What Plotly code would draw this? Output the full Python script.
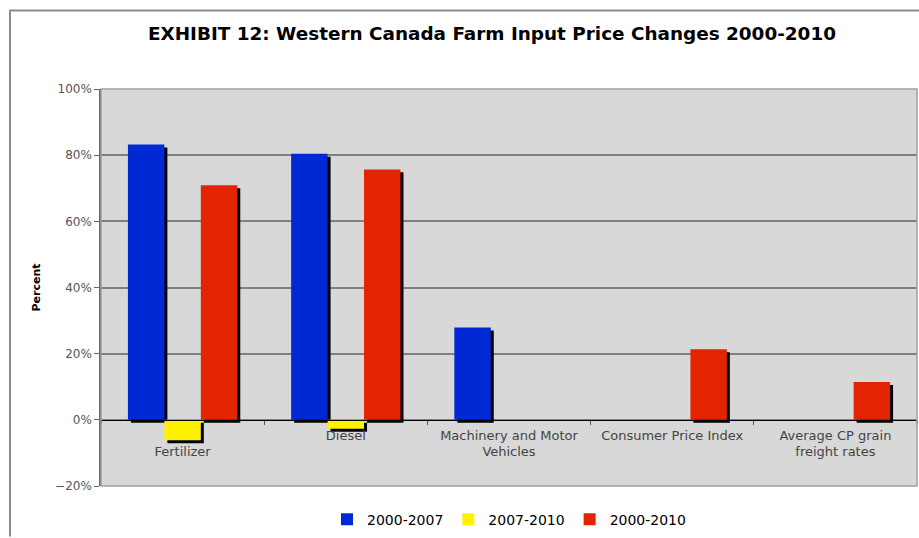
import plotly.graph_objects as go

categories = ["Fertilizer", "Diesel", "Machinery and Motor Vehicles",
              "Consumer Price Index", "Average CP grain freight rates"]
tick_labels = ["<br>Fertilizer", "Diesel", "Machinery and Motor<br>Vehicles",
               "Consumer Price Index", "Average CP grain<br>freight rates"]
series_names = ["2000-2007", "2007-2010", "2000-2010"]
v_2000_2007 = [83.2, 80.4, 27.9, None, None]
v_2007_2010 = [-6.2, -2.7, None, None, None]
v_2000_2010 = [70.9, 75.7, None, 21.3, 11.4]
colors = ["#0029D6", "#FFF200", "#E32400"]

W, H = 919, 538
ML, MR, MT, MB = 101, 2, 89, 49
PW, PH = W - ML - MR, H - MT - MB
YMIN, YMAX = -20, 100

bargap = 0.33
bw = (1 - bargap) / 3
offsets = [-1.5 * bw + i * bw for i in range(3)]
dx = 3 / (PW / len(categories))
dy = 3 * (YMAX - YMIN) / PH

fig = go.Figure()
series = [v_2000_2007, v_2007_2010, v_2000_2010]
# shadows
for vals, off in zip(series, offsets):
    fig.add_trace(go.Bar(x=categories, y=vals, base=-dy, width=bw, offset=off + dx,
                         marker=dict(color="black", line=dict(width=0)),
                         showlegend=False, hoverinfo="skip"))
for name, vals, off, c in zip(series_names, series, offsets, colors):
    fig.add_trace(go.Bar(x=categories, y=vals, name=name, width=bw, offset=off,
                         marker=dict(color=c, line=dict(width=0))))

def px_x(p):
    return (p - ML) / PW

def px_y(p):
    return (H - MB - p) / PH

shapes = [
    dict(type="rect", xref="paper", yref="paper", x0=0, x1=1, y0=0, y1=1,
         line=dict(color="#a0a0a0", width=1.5), layer="above"),
    dict(type="line", xref="paper", yref="paper", x0=px_x(10), x1=px_x(10),
         y0=px_y(10), y1=px_y(540), line=dict(color="#8c8c8c", width=2)),
    dict(type="line", xref="paper", yref="paper", x0=px_x(9), x1=px_x(921),
         y0=px_y(10), y1=px_y(10), line=dict(color="#8c8c8c", width=2)),
]

fig.update_layout(
    width=W, height=H,
    margin=dict(l=ML, r=MR, t=MT, b=MB),
    paper_bgcolor="white", plot_bgcolor="#D8D8D8",
    barmode="overlay",
    font=dict(family="DejaVu Sans", size=12, color="#444"),
    title=dict(text="<b>EXHIBIT 12: Western Canada Farm Input Price Changes 2000-2010</b>",
               x=492 / W, xanchor="center", y=1 - 34 / H, yanchor="middle",
               font=dict(family="DejaVu Sans", size=18.4, color="black")),
    xaxis=dict(type="category", categoryorder="array", categoryarray=categories,
               tickmode="array", tickvals=categories, ticktext=tick_labels,
               range=[-0.5, len(categories) - 0.5],
               anchor="free", position=(0 - YMIN) / (YMAX - YMIN),
               showline=True, linecolor="black", linewidth=1.2,
               ticks="outside", tickson="boundaries", ticklen=4, tickcolor="#555",
               ticklabelstandoff=3,
               showgrid=False, tickfont=dict(size=13, color="#444")),
    yaxis=dict(range=[YMIN, YMAX], dtick=20, ticksuffix="%",
               showgrid=True, gridcolor="#808080", gridwidth=1.5,
               zeroline=False, showline=True, linecolor="#666", linewidth=1.5,
               ticks="outside", ticklen=5, tickcolor="#666",
               tickfont=dict(size=12, color="#555"),
               title=dict(text="<b>Percent</b>", standoff=12,
                          font=dict(size=11, color="black"))),
    legend=dict(orientation="h", x=0.5, xanchor="center", y=px_y(523), yanchor="middle",
                font=dict(size=14, color="black"), itemwidth=30,
                bgcolor="rgba(0,0,0,0)", traceorder="normal"),
    shapes=shapes,
    showlegend=True,
)

fig.write_html("out.html", config={"displayModeBar": False},
               post_script="document.body.style.margin='0';")
